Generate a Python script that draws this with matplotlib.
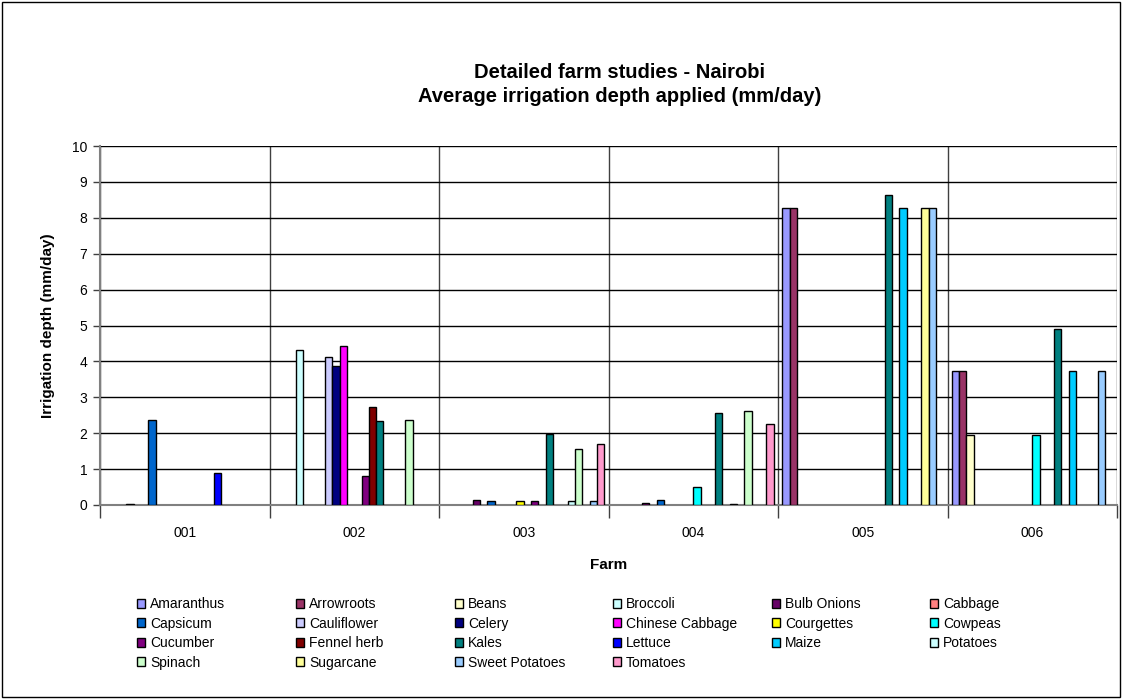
import numpy as np
import matplotlib.pyplot as plt
from matplotlib.patches import Rectangle

plt.rcParams['font.family'] = ['Liberation Sans', 'DejaVu Sans']

# farms along the x axis
farms = ['001', '002', '003', '004', '005', '006']

crops = ['Amaranthus', 'Arrowroots', 'Beans', 'Broccoli', 'Bulb Onions', 'Cabbage',
         'Capsicum', 'Cauliflower', 'Celery', 'Chinese Cabbage', 'Courgettes', 'Cowpeas',
         'Cucumber', 'Fennel herb', 'Kales', 'Lettuce', 'Maize', 'Potatoes',
         'Spinach', 'Sugarcane', 'Sweet Potatoes', 'Tomatoes']

colours = ['#9999FF', '#993366', '#FFFFCC', '#CCFFFF', '#660066', '#FF8080',
           '#0066CC', '#CCCCFF', '#000080', '#FF00FF', '#FFFF00', '#00FFFF',
           '#800080', '#800000', '#008080', '#0000FF', '#00CCFF', '#CCFFFF',
           '#CCFFCC', '#FFFF99', '#99CCFF', '#FF99CC']

# average irrigation depth (mm/day) per crop, one value per farm (nan = not grown)
n = np.nan
depth = {
    'Amaranthus':      [n, n, n, n, 8.27, 3.73],
    'Arrowroots':      [n, n, n, n, 8.27, 3.73],
    'Beans':           [n, n, n, n, n, 1.95],
    'Broccoli':        [0.02, 4.33, n, n, n, n],
    'Bulb Onions':     [n, n, 0.15, 0.05, n, n],
    'Cabbage':         [n, n, n, n, n, n],
    'Capsicum':        [2.36, n, 0.11, 0.14, n, n],
    'Cauliflower':     [n, 4.11, n, n, n, n],
    'Celery':          [n, 3.87, n, n, n, n],
    'Chinese Cabbage': [n, 4.44, n, n, n, n],
    'Courgettes':      [n, n, 0.11, n, n, n],
    'Cowpeas':         [n, n, n, 0.51, n, 1.95],
    'Cucumber':        [n, 0.81, 0.11, n, n, n],
    'Fennel herb':     [n, 2.73, n, n, n, n],
    'Kales':           [n, 2.33, 1.99, 2.56, 8.63, 4.89],
    'Lettuce':         [0.88, n, n, n, n, n],
    'Maize':           [n, n, n, 0.04, 8.27, 3.73],
    'Potatoes':        [n, n, 0.11, n, n, n],
    'Spinach':         [n, 2.38, 1.56, 2.63, n, n],
    'Sugarcane':       [n, n, n, n, 8.27, n],
    'Sweet Potatoes':  [n, n, 0.11, n, 8.27, 3.73],
    'Tomatoes':        [n, n, 1.69, 2.27, n, n],
}

W, H = 1122, 699
fig = plt.figure(figsize=(W / 100, H / 100), dpi=100)
ax = fig.add_axes([100 / W, 1 - 505 / H, 1017 / W, 359 / H])

x = np.arange(len(farms))
w = 1 / (len(crops) + 1.2)
handles = []
for i, crop in enumerate(crops):
    b = ax.bar(x + (i - (len(crops) - 1) / 2) * w, depth[crop], width=w,
               color=colours[i], edgecolor='black', linewidth=1, label=crop, zorder=3)
    handles.append(b)

ax.set_xlim(-0.5, len(farms) - 0.5)
ax.set_ylim(0, 10)
ax.set_yticks(range(0, 11))
ax.set_xticks(x)
ax.set_xticklabels(farms)
ax.set_xticks(np.arange(len(farms) + 1) - 0.5, minor=True)
ax.tick_params(axis='x', which='major', length=0, pad=15, labelsize=10)
ax.tick_params(axis='x', which='minor', length=9, width=1, color='#404040')
ax.tick_params(axis='y', length=5, width=1, color='#404040', labelsize=10, pad=4)
ax.grid(axis='y', color='black', linewidth=1, zorder=0)
ax.grid(axis='x', which='minor', color='#404040', linewidth=1, zorder=0)
for s in ['top', 'right']:
    ax.spines[s].set_visible(False)
for s in ['left', 'bottom']:
    ax.spines[s].set_color('#808080')
    ax.spines[s].set_linewidth(1.5)

ax.set_xlabel('Farm', fontsize=11, fontweight='bold', labelpad=13)
ax.set_ylabel('Irrigation depth (mm/day)', fontsize=11, fontweight='bold', labelpad=12)
fig.text(620 / W, 1 - 72 / H, 'Detailed farm studies - Nairobi', ha='center',
         va='center', fontsize=14.5, fontweight='bold')
fig.text(620 / W, 1 - 97 / H, 'Average irrigation depth applied (mm/day)',
         ha='center', va='center', fontsize=14.5, fontweight='bold')

# legend: six evenly spaced columns, filled row by row
ncol = 6
col_x = [137, 296, 455, 613, 772, 930]
for c in range(ncol):
    idx = list(range(c, len(crops), ncol))
    fig.legend([handles[k] for k in idx], [crops[k] for k in idx],
               loc='upper left', bbox_to_anchor=(col_x[c] / W, 1 - 597 / H),
               frameon=False, fontsize=10, handlelength=0.6, handleheight=0.6,
               handletextpad=0.35, labelspacing=0.4, borderpad=0, borderaxespad=0)

fig.patches.append(Rectangle((0.002, 0.003), 0.996, 0.994, transform=fig.transFigure,
                             fill=False, edgecolor='black', linewidth=1))

fig.savefig('out.png', dpi=100)
